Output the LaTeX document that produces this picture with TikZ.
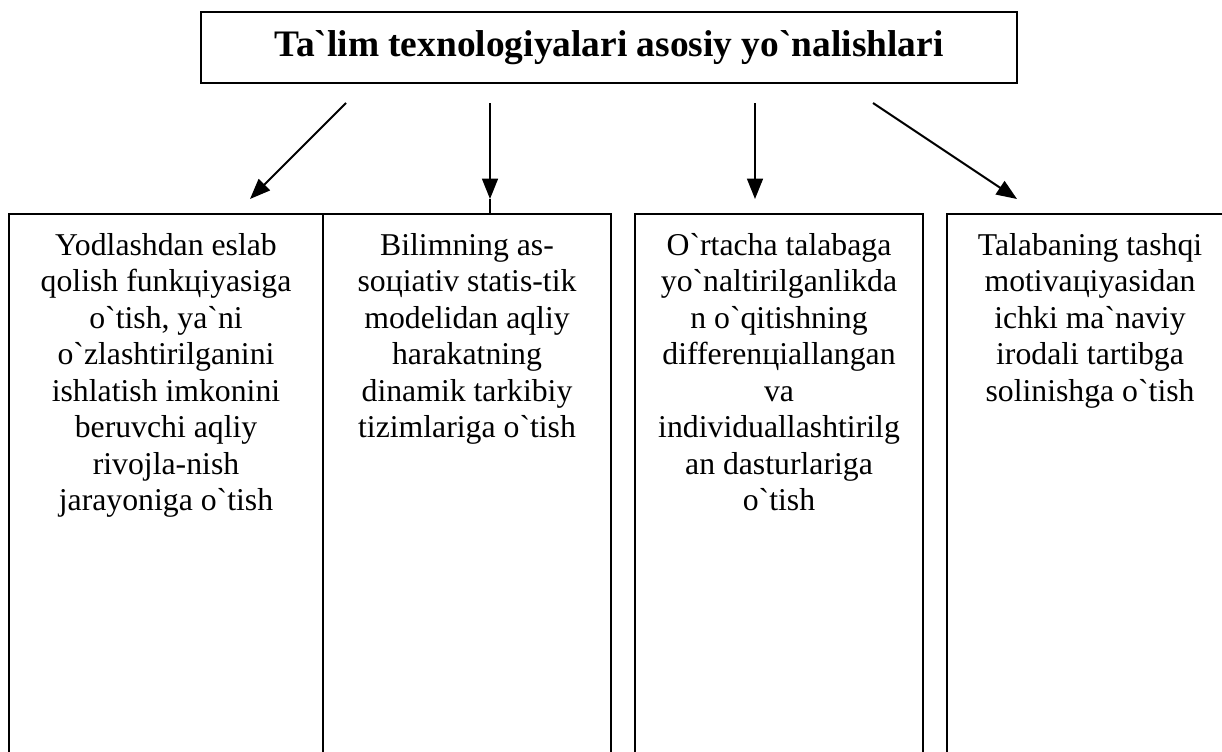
\documentclass[tikz,border=0pt]{standalone}
\usepackage{fontspec}
\setmainfont{Liberation Serif}[Ligatures=TeXOff]
\usetikzlibrary{arrows.meta,positioning}

\newdimen\pxu
\pxu=0.441pt

\begin{document}
\begin{tikzpicture}[x=0.441pt, y=-0.441pt,
        line width=0.9pt,
        headbox/.style={draw, inner sep=0pt, minimum width=816\pxu, minimum height=71\pxu,
            font=\fontsize{16.5}{19}\selectfont\bfseries},
        colbox/.style={draw, inner sep=0pt, anchor=north west, minimum height=557\pxu},
        coltext/.style={inner sep=0pt, anchor=north, align=center,
            font=\fontsize{14}{16.1}\selectfont},
        arr/.style={-{Triangle[length=9pt, width=7pt]}}
    ]
        \useasboundingbox (0,0) rectangle (1222,751);
        \clip (0,0) rectangle (1222,751);

        \node[headbox] (head) at (609,47.5) {Ta`lim texnologiyalari asosiy yo`nalishlari};

        \node[colbox, minimum width=314\pxu] (b1) at (8,213) {};
        \node[colbox, minimum width=288\pxu] (b2) at (322,213) {};
        \node[colbox, minimum width=288\pxu] (b3) at (634,213) {};
        \node[colbox, minimum width=286\pxu] (b4) at (946,213) {};

        \node[coltext, below=6.8pt of b1.north] (t1)
            {\strut Yodlashdan eslab\\qolish funkцiyasiga\\o`tish, ya`ni\\o`zlashtirilganini\\ishlatish imkonini\\beruvchi aqliy\\rivojla-nish\\jarayoniga o`tish};
        \node[coltext, below=6.8pt of b2.north] (t2)
            {\strut Bilimning as-\\soцiativ statis-tik\\modelidan aqliy\\harakatning\\dinamik tarkibiy\\tizimlariga o`tish};
        \node[coltext, below=6.8pt of b3.north] (t3)
            {\strut O`rtacha talabaga\\yo`naltirilganlikda\\n o`qitishning\\differenцiallangan\\va\\individuallashtirilg\\an dasturlariga\\o`tish};
        \node[coltext, below=6.8pt of b4.north] (t4)
            {\strut Talabaning tashqi\\motivaцiyasidan\\ichki ma`naviy\\irodali tartibga\\solinishga o`tish};

        % arrows from the heading
        \coordinate (s1) at (346,103);
        \coordinate (e1) at (250,199);
        \coordinate (s2) at (490,103);
        \coordinate (e2) at (490,199);
        \coordinate (s3) at (755,103);
        \coordinate (e3) at (755,199);
        \coordinate (s4) at (873,103);
        \coordinate (e4) at (1017,199);

        \draw[arr] (s1) -- (e1);
        \draw[arr] (s2) -- (e2);
        \draw (e2) -- (e2 |- b2.north);
        \draw[arr] (s3) -- (e3);
        \draw[arr] (s4) -- (e4);
\end{tikzpicture}
\end{document}
